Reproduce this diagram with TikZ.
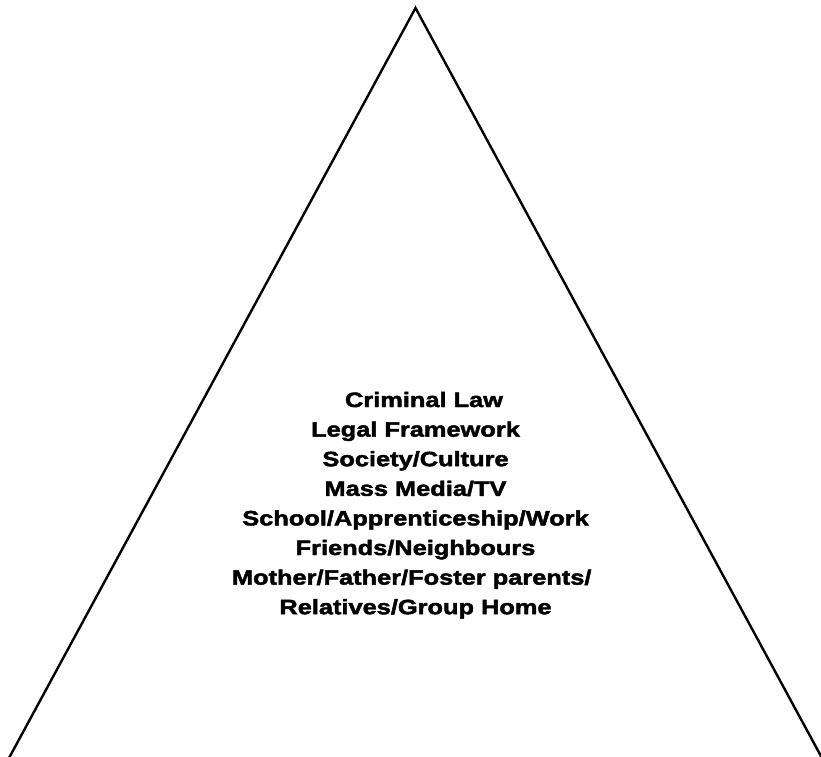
\documentclass[tikz,border=0pt]{standalone}
\usepackage{fontspec}
\setmainfont{Liberation Sans}[FakeStretch=1.22,BoldFeatures={FakeBold=2.2}]
\begin{document}
\begin{tikzpicture}[x=1pt,y=-1pt,
  lbl/.style={font=\bfseries\fontsize{20.8}{24}\selectfont, anchor=base, inner sep=0pt},
  edge/.style={line width=2.4pt, line join=miter}]
\useasboundingbox (0,0) rectangle (821,756);
\clip (0,0) rectangle (821,756);
\coordinate (apex) at (415.5,8);
\coordinate (bl) at (2.5,770);
\coordinate (br) at (828.5,770);
\draw[edge] (bl) -- (apex) -- (br);
\node[lbl] (l1) at (424,407) {Criminal Law};
\node[lbl] (l2) at (415.5,436.6) {Legal Framework};
\node[lbl] (l3) at (415.5,466.2) {Society/Culture};
\node[lbl] (l4) at (415.5,495.8) {Mass Media/TV};
\node[lbl] (l5) at (415.5,525.4) {School/Apprenticeship/Work};
\node[lbl] (l6) at (415.5,555) {Friends/Neighbours};
\node[lbl] (l7) at (411.7,584.6) {Mother/Father/Foster parents/};
\node[lbl] (l8) at (415.5,614.2) {Relatives/Group Home};
\end{tikzpicture}
\end{document}
